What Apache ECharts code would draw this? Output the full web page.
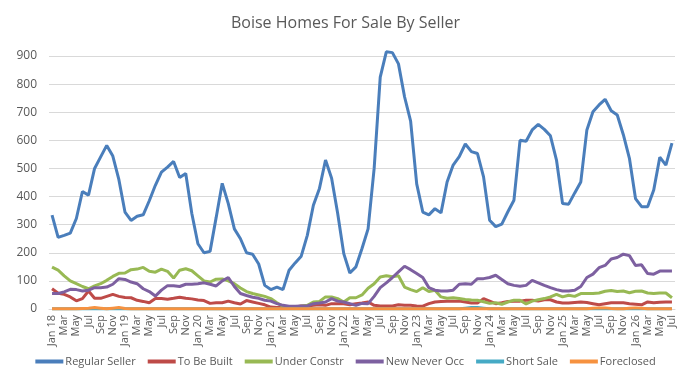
<!DOCTYPE html>
<html>
<head>
<meta charset="utf-8">
<script src="https://cdn.jsdelivr.net/npm/echarts@6/dist/echarts.min.js"></script>
<style>
  html, body { margin: 0; padding: 0; background: #fff; }
  #chart { width: 691px; height: 384px; }
</style>
</head>
<body>
<div id="chart"></div>
<script>
const months = [
  'Jan 18', 'Feb', 'Mar', 'Apr', 'May', 'Jun', 'Jul', 'Aug', 'Sep', 'Oct', 'Nov', 'Dec',
  'Jan 19', 'Feb', 'Mar', 'Apr', 'May', 'Jun', 'Jul', 'Aug', 'Sep', 'Oct', 'Nov', 'Dec',
  'Jan 20', 'Feb', 'Mar', 'Apr', 'May', 'Jun', 'Jul', 'Aug', 'Sep', 'Oct', 'Nov', 'Dec',
  'Jan 21', 'Feb', 'Mar', 'Apr', 'May', 'Jun', 'Jul', 'Aug', 'Sep', 'Oct', 'Nov', 'Dec',
  'Jan 22', 'Feb', 'Mar', 'Apr', 'May', 'Jun', 'Jul', 'Aug', 'Sep', 'Oct', 'Nov', 'Dec',
  'Jan 23', 'Feb', 'Mar', 'Apr', 'May', 'Jun', 'Jul', 'Aug', 'Sep', 'Oct', 'Nov', 'Dec',
  'Jan 24', 'Feb', 'Mar', 'Apr', 'May', 'Jun', 'Jul', 'Aug', 'Sep', 'Oct', 'Nov', 'Dec',
  'Jan 25', 'Feb', 'Mar', 'Apr', 'May', 'Jun', 'Jul', 'Aug', 'Sep', 'Oct', 'Nov', 'Dec',
  'Jan 26', 'Feb', 'Mar', 'Apr', 'May', 'Jun', 'Jul'
];

// values, one row per year
const regularSeller = [
  334, 255, 262, 270, 322, 418, 405, 500, 541, 582, 544, 460,
  345, 315, 330, 335, 385, 440, 487, 505, 525, 468, 482, 340,
  232, 200, 205, 325, 447, 375, 285, 250, 200, 195, 160, 84,
  69, 78, 69, 138, 164, 188, 262, 369, 429, 530, 465, 340,
  197, 128, 150, 215, 285, 500, 825, 915, 912, 872, 755, 668,
  445, 345, 335, 357, 342, 452, 512, 542, 587, 560, 553, 470,
  316, 293, 302, 346, 387, 600, 597, 637, 657, 639, 616, 530,
  375, 373, 413, 452, 637, 702, 726, 746, 705, 690, 620, 536,
  393, 364, 364, 423, 540, 512, 590
];
const toBeBuilt = [
  72, 56, 52, 43, 29, 37, 64, 38, 38, 45, 52, 45,
  41, 40, 31, 27, 22, 37, 37, 35, 38, 42, 38, 36,
  32, 30, 20, 22, 22, 28, 22, 18, 30, 25, 20, 15,
  7, 5, 5, 7, 7, 11, 11, 13, 15, 13, 19, 19,
  19, 15, 19, 21, 25, 13, 11, 11, 11, 15, 13, 13,
  11, 10, 19, 25, 27, 28, 28, 28, 25, 21, 21, 37,
  28, 19, 22, 27, 28, 28, 31, 31, 28, 33, 33, 25,
  21, 21, 23, 25, 23, 19, 15, 19, 22, 22, 22, 19,
  17, 15, 25, 22, 24, 25, 25
];
const underConstr = [
  149, 138, 118, 100, 90, 80, 72, 82, 90, 102, 116, 127,
  128, 140, 142, 148, 134, 131, 142, 134, 110, 138, 143, 136,
  118, 100, 96, 106, 107, 100, 90, 75, 62, 55, 50, 45,
  37, 22, 10, 7, 7, 10, 13, 25, 27, 43, 43, 37,
  25, 40, 40, 50, 74, 90, 114, 118, 115, 118, 78, 69,
  62, 76, 62, 67, 43, 38, 40, 37, 34, 32, 31, 26,
  20, 22, 17, 25, 31, 31, 18, 28, 33, 37, 43, 52,
  43, 49, 45, 55, 55, 55, 57, 63, 66, 62, 64, 58,
  63, 64, 57, 55, 57, 57, 40
];
const newNeverOcc = [
  55, 55, 61, 70, 69, 64, 67, 76, 76, 78, 88, 108,
  105, 96, 90, 72, 62, 46, 67, 83, 83, 80, 88, 88,
  90, 93, 88, 82, 100, 112, 80, 55, 48, 42, 38, 31,
  28, 19, 13, 10, 10, 11, 11, 19, 21, 25, 37, 28,
  25, 19, 13, 20, 19, 45, 76, 93, 112, 132, 152, 140,
  126, 112, 76, 67, 64, 64, 67, 88, 90, 88, 108, 108,
  112, 120, 105, 90, 84, 81, 84, 102, 93, 84, 76, 69,
  64, 64, 67, 80, 112, 124, 147, 155, 178, 183, 195, 190,
  155, 157, 126, 124, 135, 135, 135
];
const shortSale = [
  1, 1, 1, 1, 1, 1, 1, 1, 1, 1, 1, 1,
  1, 1, 1, 1, 1, 1, 1, 1, 1, 1, 1, 1,
  1, 1, 1, 1, 1, 1, 1, 1, 1, 1, 1, 1,
  1, 1, 1, 1, 1, 1, 1, 1, 1, 1, 1, 1,
  1, 1, 1, 1, 1, 1, 1, 1, 1, 1, 1, 1,
  1, 1, 1, 1, 1, 1, 1, 1, 3, 5, 5, 3,
  1, 1, 1, 1, 1, 1, 1, 1, 1, 1, 1, 1,
  1, 1, 1, 1, 1, 1, 1, 1, 1, 1, 1, 1,
  1, 1, 1, 1, 1, 1, 1
];
const foreclosed = [
  1, 1, 1, 1, 1, 2, 3, 5, 3, 1, 3, 5,
  2, 1, 1, 1, 1, 1, 1, 1, 1, 1, 1, 1,
  1, 1, 1, 1, 1, 1, 1, 1, 1, 1, 1, 1,
  1, 1, 1, 1, 1, 1, 1, 1, 1, 1, 1, 1,
  1, 1, 1, 1, 1, 1, 1, 1, 1, 1, 1, 1,
  1, 1, 1, 1, 1, 1, 1, 1, 1, 1, 1, 1,
  1, 1, 1, 1, 1, 1, 1, 1, 1, 1, 1, 1,
  1, 1, 1, 1, 1, 3, 4, 4, 2, 1, 1, 3,
  4, 3, 1, 1, 1, 1, 1
];

const chart = echarts.init(document.getElementById('chart'));
const textColor = '#595959';
const font = '"Open Sans", "Liberation Sans", sans-serif';

function line(name, data, color) {
  return {
    name: name,
    type: 'line',
    data: data,
    symbol: 'none',
    clip: false, // the 2022 peak pokes above the 900 line
    lineStyle: { width: 3, color: color },
    itemStyle: { color: color }
  };
}

chart.setOption({
  animation: false,
  title: {
    text: 'Boise Homes For Sale By Seller',
    left: 'center',
    top: 10,
    textStyle: { fontFamily: font, fontSize: 16, fontWeight: 'normal', color: textColor }
  },
  grid: { left: 49, right: 16, top: 56, bottom: 75 },
  legend: {
    bottom: 12,
    left: 'center',
    icon: 'rect',
    itemWidth: 28,
    itemHeight: 4,
    itemGap: 12,
    textStyle: { fontFamily: font, fontSize: 11, color: textColor, padding: [0, 0, 0, -3] },
    data: ['Regular Seller', 'To Be Built', 'Under Constr', 'New Never Occ', 'Short Sale', 'Foreclosed']
  },
  xAxis: {
    type: 'category',
    data: months,
    boundaryGap: true,
    axisLine: { lineStyle: { color: '#d9d9d9' } },
    axisTick: { show: false },
    axisLabel: {
      interval: 1,
      rotate: 90,
      margin: 6,
      fontFamily: font,
      fontSize: 11,
      color: textColor
    }
  },
  yAxis: {
    type: 'value',
    min: 0,
    max: 900,
    interval: 100,
    axisLine: { show: false },
    axisTick: { show: false },
    splitLine: { lineStyle: { color: '#d9d9d9', width: 1 } },
    axisLabel: { fontFamily: font, fontSize: 12, color: textColor, margin: 12 }
  },
  series: [
    line('Regular Seller', regularSeller, '#4a7ebb'),
    line('To Be Built', toBeBuilt, '#be4b48'),
    line('Under Constr', underConstr, '#98b954'),
    line('New Never Occ', newNeverOcc, '#7d60a0'),
    line('Short Sale', shortSale, '#46aac5'),
    line('Foreclosed', foreclosed, '#f69240')
  ]
});
</script>
</body>
</html>
